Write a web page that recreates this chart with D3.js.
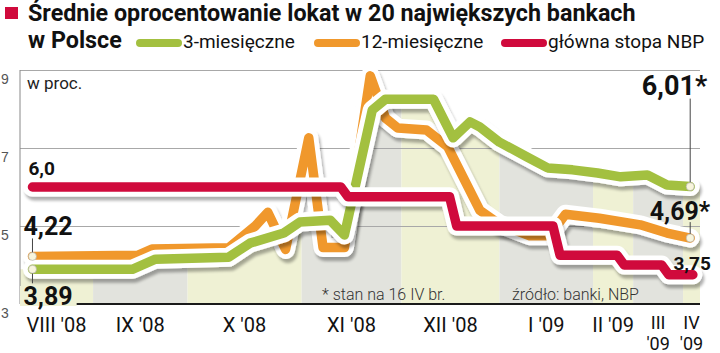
<!DOCTYPE html>
<html>
<head>
<meta charset="utf-8">
<script src="https://cdn.jsdelivr.net/npm/d3@7"></script>
<style>
  body { margin: 0; background: #fff; }
  svg { font-family: Roboto, "Noto Sans", sans-serif; display: block; }
</style>
</head>
<body>
<div id="chart"></div>
<script>
// x axis is counted in weeks from the first observation (early VIII '08)
var monthLabels = ["VIII '08", "IX '08", "X '08", "XI '08", "XII '08", "I '09", "II '09", "III\n'09", "IV\n'09"];
var monthEdges = [-0.7, 3.4, 8.7, 15.1, 20.7, 26.2, 31.45, 33.7, 36.5, 37.45];

var weeks3m = [0, 5.6, 6.9, 11.0, 12.2, 14.1, 15.0, 16.7, 17.5, 19.06, 19.8, 22.5, 23.6, 24.55, 25.1, 26.2, 27.75, 28.9, 30.3, 31.7, 33.0, 34.5, 35.6, 36.9];
var rates3m = [3.89, 3.89, 4.15, 4.2, 4.56, 4.82, 5.1, 5.15, 4.77, 7.97, 8.25, 8.25, 7.26, 7.67, 7.54, 7.15, 6.77, 6.49, 6.44, 6.36, 6.26, 6.31, 6.05, 6.01];

var weeks12m = [0, 5.9, 6.7, 11.0, 12.5, 13.2, 14.2, 15.5, 16.3, 17.5, 18.95, 19.8, 20.5, 22.1, 23.3, 25.1, 26.2, 27.9, 29.0, 29.9, 31.8, 34.1, 35.6, 36.9];
var rates12m = [4.22, 4.25, 4.41, 4.44, 5.0, 5.35, 4.4, 7.26, 4.45, 4.45, 8.85, 7.77, 7.51, 7.46, 7.03, 5.4, 5.05, 4.75, 4.75, 5.3, 5.2, 5.03, 4.82, 4.69];

var weeksNbp = [0, 17.3, 17.7, 23.4, 23.8, 29.2, 29.6, 32.8, 33.2, 35.3, 35.7, 37.05];
var ratesNbp = [6.0, 6.0, 5.75, 5.75, 5.0, 5.0, 4.25, 4.25, 4.0, 4.0, 3.75, 3.75];

var yTicks = [3, 5, 7, 9];

var colors = { m3: "#a3c040", m12: "#f0982c", nbp: "#d00a3c" };
var bandColors = ["#eff1d4", "#e2e3dd"];

var width = 720, height = 353;
var x = d3.scaleLinear().domain([monthEdges[0], monthEdges[monthEdges.length - 1]]).range([20, 700]);
var y = d3.scaleLinear().domain([3, 9]).range([304, 70]);

function zip(ws, vs) {
  return ws.map(function (w, i) { return { w: w, v: vs[i] }; });
}
var series = [
  { key: "m12", data: zip(weeks12m, rates12m) },
  { key: "m3", data: zip(weeks3m, rates3m) },
  { key: "nbp", data: zip(weeksNbp, ratesNbp) }
];
var green = series[1].data;

var svg = d3.select("#chart").append("svg").attr("width", width).attr("height", height);
var defs = svg.append("defs");

var filter = defs.append("filter").attr("id", "shadow")
  .attr("filterUnits", "userSpaceOnUse").attr("x", 0).attr("y", 0).attr("width", width).attr("height", height);
filter.append("feGaussianBlur").attr("in", "SourceAlpha").attr("stdDeviation", 1.8);
filter.append("feOffset").attr("dx", 2).attr("dy", 4).attr("result", "off");
filter.append("feComponentTransfer").append("feFuncA").attr("type", "linear").attr("slope", 0.32);
var merge = filter.append("feMerge");
merge.append("feMergeNode");
merge.append("feMergeNode").attr("in", "SourceGraphic");

// month bands only show under the 3-month line
var clipData = [{ w: monthEdges[0], v: rates3m[0] }].concat(green, [{ w: monthEdges[monthEdges.length - 1], v: rates3m[rates3m.length - 1] }]);
defs.append("clipPath").attr("id", "under")
  .append("path")
  .attr("d", d3.area().x(function (d) { return x(d.w); }).y0(y(3)).y1(function (d) { return y(d.v); })(clipData));

var bands = d3.range(monthLabels.length).map(function (i) {
  return { label: monthLabels[i], a: monthEdges[i], b: monthEdges[i + 1], i: i };
});

svg.append("g").attr("clip-path", "url(#under)")
  .selectAll("rect").data(bands).enter().append("rect")
  .attr("x", function (d) { return x(d.a); })
  .attr("width", function (d) { return x(d.b) - x(d.a); })
  .attr("y", y(9))
  .attr("height", y(3) - y(9))
  .attr("fill", function (d) { return bandColors[d.i % 2]; });

// grid
var gY = svg.append("g").attr("transform", "translate(20,0)");
gY.call(d3.axisLeft(y).tickValues(yTicks).tickSize(-(x.range()[1] - x.range()[0])).tickFormat(d3.format("d")));
gY.select(".domain").remove();
gY.selectAll(".tick line").attr("stroke", "#a8a8a8").attr("stroke-width", 1);
gY.selectAll(".tick text")
  .attr("x", -19).attr("dy", "0.95em")
  .attr("text-anchor", "start")
  .attr("fill", "#555").style("font-size", "14px").style("font-weight", 300);
gY.selectAll(".tick").filter(function (d) { return d === 3; }).select("line").remove();

svg.append("line")
  .attr("x1", 20).attr("x2", 20).attr("y1", y(9)).attr("y2", y(3))
  .attr("stroke", "#888").attr("stroke-width", 1);

svg.append("line")
  .attr("x1", 20).attr("x2", 700).attr("y1", y(3)).attr("y2", y(3))
  .attr("stroke", "#1a1a1a").attr("stroke-width", 2.2);

// lines
var line = d3.line()
  .x(function (d) { return x(d.w); })
  .y(function (d) { return y(d.v); });

var gLines = svg.append("g");
series.forEach(function (s) {
  gLines.append("path")
    .attr("d", line(s.data))
    .attr("fill", "none")
    .attr("stroke", "#fff")
    .attr("stroke-width", 19)
    .attr("stroke-linejoin", "round")
    .attr("stroke-linecap", "round")
    .attr("filter", "url(#shadow)");
  gLines.append("path")
    .attr("d", line(s.data))
    .attr("fill", "none")
    .attr("stroke", colors[s.key])
    .attr("stroke-width", 9.5)
    .attr("stroke-linejoin", "round")
    .attr("stroke-linecap", "round");
});

// value labels with leaders
var first3 = green[0], last3 = green[green.length - 1];
var d12 = series[0].data, first12 = d12[0], last12 = d12[d12.length - 1];
var lastNbp = series[2].data[series[2].data.length - 1];

function leader(w, y1, y2) {
  svg.append("line")
    .attr("x1", x(w)).attr("x2", x(w)).attr("y1", y1).attr("y2", y2)
    .attr("stroke", "#444").attr("stroke-width", 1);
}
leader(first12.w, y(first12.v) - 18, y(first12.v));
leader(first3.w, y(first3.v), y(first3.v) + 14);
leader(last3.w, y(last3.v) - 88, y(last3.v));
leader(last12.w, y(last12.v) - 16, y(last12.v));

[first3, first12, last3, last12].forEach(function (d) {
  svg.append("circle")
    .attr("cx", x(d.w)).attr("cy", y(d.v)).attr("r", 4)
    .attr("fill", "#f8f5dc").attr("stroke", "#aaa").attr("stroke-width", 0.6);
});

function label(txt, px, py, size, anchor) {
  return svg.append("text")
    .attr("x", px).attr("y", py)
    .attr("text-anchor", anchor || "start")
    .style("font-size", size + "px").style("font-weight", 700)
    .attr("fill", "#111").text(txt);
}
var fmt = function (v, n) { return d3.format("." + n + "f")(v).replace(".", ","); };

label(fmt(ratesNbp[0], 1), x(0) - 4, y(ratesNbp[0]) - 12, 19);
label(fmt(first12.v, 2), x(0) - 9, y(first12.v) - 21, 25);

var l389 = label(fmt(first3.v, 2), x(0) - 9, y(3) + 1, 25);
var bb = l389.node().getBBox();
svg.insert("rect", function () { return l389.node(); })
  .attr("x", 20).attr("y", bb.y + 4).attr("width", bb.x + bb.width + 4 - 20).attr("height", y(3) + 2 - bb.y - 4)
  .attr("fill", bandColors[0]);

label(fmt(last3.v, 2) + "*", x(last3.w) + 17, y(last3.v) - 92, 27, "end");
label(fmt(last12.v, 2) + "*", x(last12.w) + 20, y(last12.v) - 18, 25, "end");
label(fmt(lastNbp.v, 2), x(lastNbp.w) + 18, y(lastNbp.v) - 5, 19, "end");

// notes
svg.append("text").attr("x", 322).attr("y", 300)
  .style("font-size", "16px").style("font-weight", 300).attr("fill", "#333")
  .text("* stan na 16 IV br.");
svg.append("text").attr("x", 512).attr("y", 300)
  .style("font-size", "16px").style("font-weight", 300).attr("fill", "#333")
  .text("źródło: banki, NBP");

svg.append("text").attr("x", 27).attr("y", 89)
  .style("font-size", "17px").attr("fill", "#222").text("w proc.");

// month labels, centred in their bands; the narrow last two wrap
var gX = svg.append("g");
bands.forEach(function (b) {
  var cx = (x(b.a) + x(b.b)) / 2;
  var parts = b.label.split("\n");
  parts.forEach(function (part, k) {
    gX.append("text")
      .attr("text-anchor", "middle")
      .attr("x", cx).attr("y", parts.length > 1 ? 329 + k * 21 : 332)
      .style("font-size", parts.length > 1 ? "18px" : "20px").attr("fill", "#111")
      .text(part);
  });
});

// title and legend
svg.append("rect").attr("x", 5).attr("y", 7).attr("width", 13).attr("height", 12).attr("fill", colors.nbp);
svg.append("text").attr("x", 28).attr("y", 21)
  .style("font-size", "23.3px").style("font-weight", 700).attr("fill", "#111")
  .text("Średnie oprocentowanie lokat w 20 największych bankach");
svg.append("text").attr("x", 28).attr("y", 48)
  .style("font-size", "23.3px").style("font-weight", 700).attr("fill", "#111")
  .text("w Polsce");

var legendItems = [
  { key: "m3", text: "3-miesięczne", x: 140 },
  { key: "m12", text: "12-miesięczne", x: 318 },
  { key: "nbp", text: "główna stopa NBP", x: 505 }
];
legendItems.forEach(function (d) {
  svg.append("line")
    .attr("x1", d.x).attr("x2", d.x + 38).attr("y1", 43).attr("y2", 43)
    .attr("stroke", colors[d.key]).attr("stroke-width", 8).attr("stroke-linecap", "round");
  svg.append("text").attr("x", d.x + 43).attr("y", 48)
    .style("font-size", "19px").attr("fill", "#111").text(d.text);
});
</script>
</body>
</html>
